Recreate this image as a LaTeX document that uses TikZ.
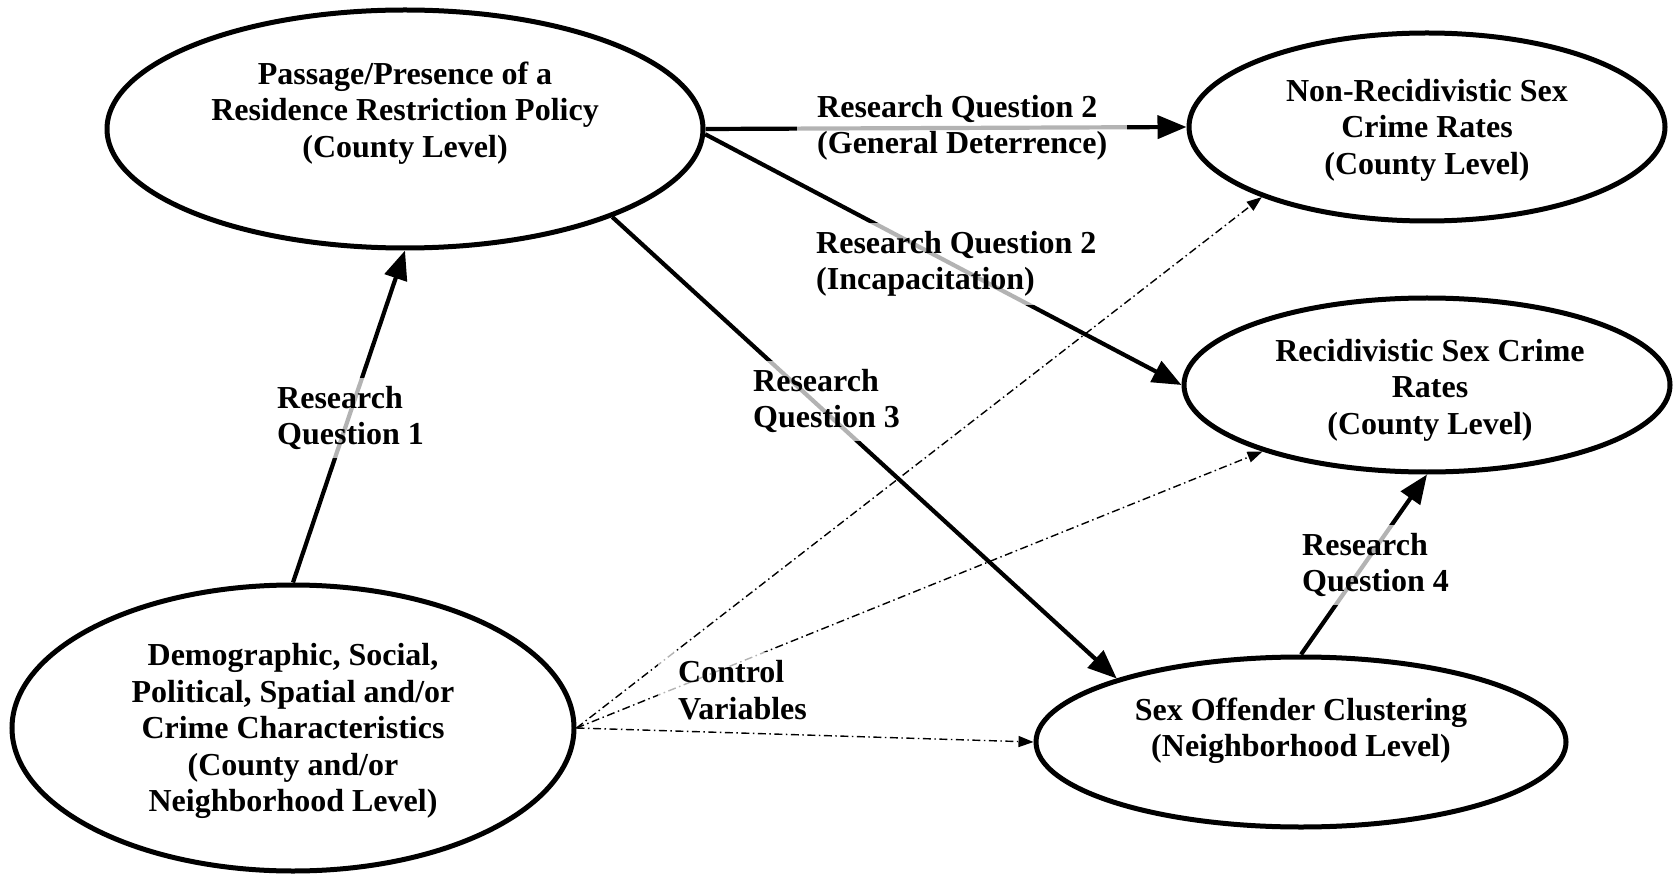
\documentclass[tikz,border=0pt]{standalone}
\usepackage{fontspec}
\setmainfont{Liberation Serif}
\usetikzlibrary{arrows.meta,shapes.geometric}
\tikzset{
  ell/.style={draw, ellipse, line width=5pt, inner sep=0pt},
  etext/.style={align=center, font=\fontsize{32}{36.5}\selectfont\bfseries},
  lab/.style={align=left, font=\fontsize{32}{36.5}\selectfont\bfseries, fill=white, fill opacity=0.7, text opacity=1, inner xsep=20pt, inner ysep=8pt},
  rq/.style={line width=4.2pt, -{Triangle[length=29pt,width=23pt]}},
  ctrl/.style={line width=1.4pt, dash pattern=on 8pt off 3.5pt on 1.5pt off 3.5pt, -{Triangle[length=15pt,width=11pt]}}
}
\begin{document}
\begin{tikzpicture}[x=1pt,y=-1pt]
\useasboundingbox (0,0) rectangle (1673,874);
% ellipses
\node[ell, minimum width=596pt, minimum height=238pt] (A) at (405,129) {};
\node[ell, minimum width=476pt, minimum height=188pt] (B) at (1427,127) {};
\node[ell, minimum width=486pt, minimum height=174pt] (C) at (1427,385) {};
\node[ell, minimum width=530pt, minimum height=170pt] (D) at (1301,742) {};
\node[ell, minimum width=562pt, minimum height=286pt] (E) at (293,728) {};
% ellipse texts
\node[etext] (At) at (405,113) {Passage/Presence of a\\Residence Restriction Policy\\(County Level)};
\node[etext] (Bt) at (1427,130) {Non-Recidivistic Sex\\Crime Rates\\(County Level)};
\node[etext] (Ct) at (1430,390) {Recidivistic Sex Crime\\Rates\\(County Level)};
\node[etext] (Dt) at (1301,731) {Sex Offender Clustering\\(Neighborhood Level)};
\node[etext] (Et) at (293,731) {Demographic, Social,\\Political, Spatial and/or\\Crime Characteristics\\(County and/or\\Neighborhood Level)};
% connectors
\draw[rq] (E.north) -- (A.south);
\draw[rq] (A.east) -- (B.west);
\draw[rq] (A.-1) -- (C.west);
\draw[rq] (A.-23) -- (D.161);
\draw[rq] (D.north) -- (C.south);
\draw[ctrl] (E.east) -- (B.-157);
\draw[ctrl] (E.east) -- (C.-158);
\draw[ctrl] (E.east) -- (D.west);
% labels (semi-transparent boxes over the connectors)
\node[lab, anchor=west] (L1) at (257,418) {Research\\Question 1};
\node[lab, anchor=west] (L2a) at (797,128) {Research Question 2\\(General Deterrence)};
\node[lab, anchor=west] (L2b) at (796,264) {Research Question 2\\(Incapacitation)};
\node[lab, anchor=west] (L3) at (733,401) {Research\\Question 3};
\node[lab, anchor=west] (L4) at (1282,565) {Research\\Question 4};
\node[lab, anchor=west] (L5) at (658,690) {Control\\Variables};
\end{tikzpicture}
\end{document}
